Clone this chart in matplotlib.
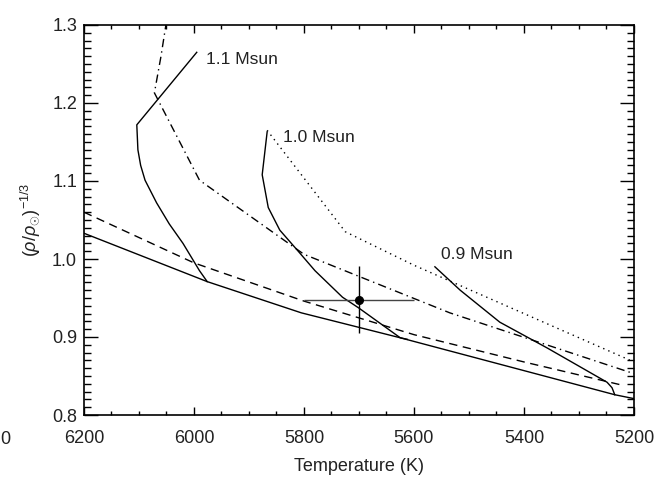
import matplotlib
matplotlib.use("Agg")
import matplotlib.pyplot as plt
from matplotlib.ticker import MultipleLocator

plt.rcParams['font.family'] = ['Liberation Sans', 'DejaVu Sans']
plt.rcParams['mathtext.fontset'] = 'custom'
plt.rcParams['mathtext.rm'] = 'Liberation Sans'
plt.rcParams['mathtext.it'] = 'Liberation Sans:italic'

# ZAMS-like lower envelope (solid)
zams_t = [6200, 5976, 5805, 5625, 5235, 5200]
zams_y = [1.033, 0.971, 0.931, 0.899, 0.826, 0.821]

# dashed line
dash_t = [6200, 6000, 5800, 5600, 5400, 5220]
dash_y = [1.060, 0.995, 0.946, 0.903, 0.868, 0.838]

# dash-dot line
dd_t = [6050, 6060, 6072, 5990, 5800, 5535, 5200]
dd_y = [1.305, 1.26, 1.213, 1.101, 1.006, 0.931, 0.853]

# dotted line
dot_t = [5867, 5725, 5600, 5400, 5200]
dot_y = [1.165, 1.035, 0.992, 0.930, 0.868]

# evolutionary tracks
t11 = [5976, 5990, 6002, 6020, 6045, 6068, 6089, 6097, 6102, 6104, 5995]
y11 = [0.971, 0.985, 0.999, 1.020, 1.045, 1.072, 1.101, 1.120, 1.140, 1.172, 1.265]

t10 = [5612, 5625, 5700, 5730, 5780, 5813, 5844, 5865, 5876, 5867]
y10 = [0.897, 0.899, 0.937, 0.951, 0.985, 1.012, 1.037, 1.066, 1.108, 1.163]

t09 = [5562, 5516, 5444, 5358, 5249, 5240, 5235]
y09 = [0.990, 0.960, 0.919, 0.886, 0.842, 0.835, 0.826]

track_labels = ["1.1 Msun", "1.0 Msun", "0.9 Msun"]
label_t = [5978, 5838, 5551]
label_y = [1.256, 1.156, 1.006]

# observed star
star_t, star_terr = 5700, 100
star_y, star_yerr = 0.948, 0.043

fig = plt.figure(figsize=(6.69, 4.78), dpi=100)
ax = fig.add_axes([84 / 669, 1 - 415 / 478, 550 / 669, 390 / 478])

lw = 1.0
ax.plot(zams_t, zams_y, color='black', lw=lw)
ax.plot(dash_t, dash_y, color='black', lw=lw, ls=(0, (6, 4)))
ax.plot(dd_t, dd_y, color='black', lw=lw, ls=(0, (6, 3, 1, 3)))
ax.plot(dot_t, dot_y, color='black', lw=lw, ls=(0, (1, 3)))
ax.plot(t11, y11, color='black', lw=lw)
ax.plot(t10, y10, color='black', lw=lw)
ax.plot(t09, y09, color='black', lw=lw)

ax.errorbar([star_t], [star_y], xerr=[star_terr], fmt='none', ecolor='#444444', elinewidth=1.0)
ax.errorbar([star_t], [star_y], yerr=[star_yerr], fmt='none', ecolor='black', elinewidth=1.0)
ax.plot([star_t], [star_y], 'o', color='black', ms=5.5)

for lab, tx, ty in zip(track_labels, label_t, label_y):
    ax.text(tx, ty, lab, fontsize=12.5, color='#222222', ha='left', va='center')

ax.set_xlim(6200, 5200)
ax.set_ylim(0.8, 1.3)

ax.xaxis.set_major_locator(MultipleLocator(200))
ax.xaxis.set_minor_locator(MultipleLocator(50))
ax.yaxis.set_major_locator(MultipleLocator(0.1))
ax.yaxis.set_minor_locator(MultipleLocator(0.01))
ax.yaxis.set_major_formatter(plt.FormatStrFormatter('%.1f'))

ax.tick_params(axis='both', which='both', direction='in', top=True, right=True,
               colors='black', labelcolor='#222222', labelsize=13)
ax.tick_params(axis='x', which='major', length=6, width=1, pad=11)
ax.tick_params(axis='x', which='minor', length=3, width=1)
ax.tick_params(axis='y', which='major', length=10, width=1, pad=5)
ax.tick_params(axis='y', which='minor', length=5, width=1)
for sp in ax.spines.values():
    sp.set_linewidth(1.2)

ax.set_xlabel('Temperature (K)', fontsize=13, color='#222222', labelpad=8)
ax.set_ylabel(r'$(\rho/\rho_{\odot})^{-1/3}$', fontsize=13, color='#222222', labelpad=7)

# clipped tick label from a neighbouring panel
fig.text(10 / 669, 1 - 439 / 478, '0', fontsize=13, color='#222222', ha='right', va='center')

fig.savefig('out.png', dpi=100)
